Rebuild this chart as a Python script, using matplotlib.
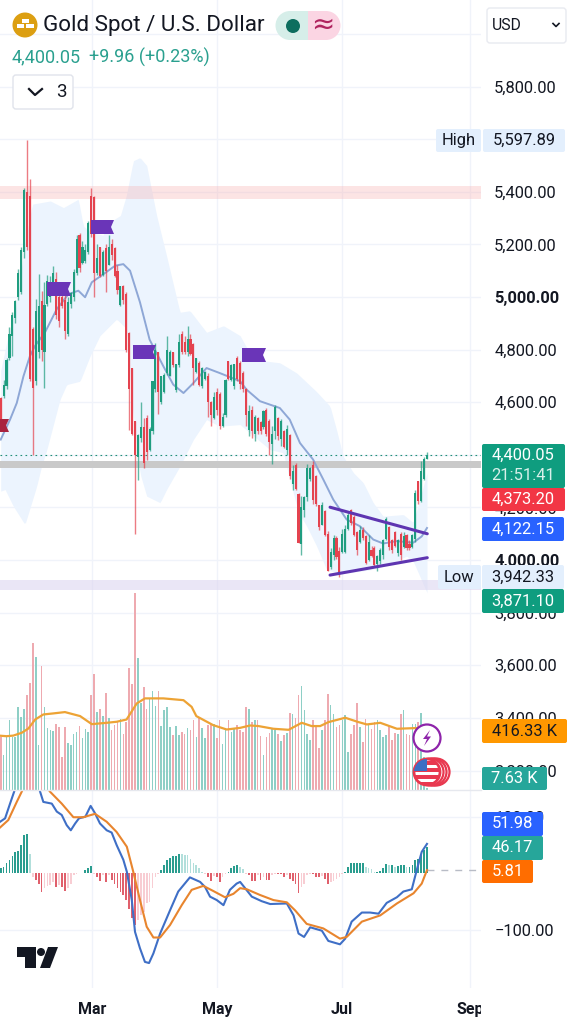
import matplotlib
matplotlib.use("Agg")
import matplotlib.pyplot as plt
import numpy as np
from matplotlib.patches import Circle, FancyBboxPatch, Polygon, Rectangle

plt.rcParams['font.family'] = ['Roboto', 'DejaVu Sans']

# daily candles
opens = [4616,4623,4660,4770,4850,4920,5000,5020,5170,5400,5385,4880,4680,4790,4985,4790,4975,5000,5020,5070,
         5000,5000,4990,4860,4975,5000,5090,5235,5130,5135,5170,5385,5380,5090,5190,5085,5185,5120,5200,5185,
         5100,4970,5040,5010,4865,4730,4530,4390,4465,4505,4540,4420,4490,4650,4790,4600,4640,4710,4700,4790,
         4645,4740,4860,4830,4790,4840,4820,4715,4750,4660,4690,4700,4600,4540,4640,4630,4510,4550,4755,4685,
         4660,4770,4750,4710,4650,4495,4570,4480,4540,4525,4505,4570,4530,4440,4490,4540,4460,4490,4420,4475,
         4290,4360,4250,4060,4190,4240,4310,4360,4320,4210,4135,4185,4100,3975,4020,4085,4035,4030,4030,4120,
         4190,4165,4105,4070,4115,4090,4000,4040,4045,3985,3995,4020,4080,4125,4075,4105,4025,4100,4050,4095,
         4060,4050,4080,4300,4225,4310,4385]
highs = [4620,4686,4770,4885,4942,4990,5106,5190,5416,5597,5448,4885,4992,5087,5021,5056,5085,5080,5119,5096,
         5030,5015,5010,5000,5020,5105,5235,5245,5213,5200,5290,5416,5385,5200,5190,5180,5200,5235,5220,5190,
         5120,5040,5045,5020,4868,4730,4530,4480,4600,4540,4550,4505,4680,4825,4790,4700,4710,4853,4800,4790,
         4745,4860,4872,4850,4891,4860,4825,4770,4755,4735,4720,4710,4605,4640,4655,4640,4560,4690,4755,4745,
         4745,4775,4755,4718,4655,4590,4585,4550,4545,4530,4570,4578,4535,4510,4590,4545,4535,4495,4515,4480,
         4360,4370,4255,4245,4245,4365,4355,4375,4325,4210,4220,4190,4110,4045,4095,4090,4050,4120,4135,4185,
         4195,4170,4110,4130,4125,4095,4095,4055,4055,4020,4045,4080,4165,4130,4080,4110,4080,4105,4105,4100,
         4075,4100,4265,4300,4375,4390,4410]
lows = [4500,4617,4650,4760,4775,4900,4990,5010,5150,5180,4680,4398,4667,4770,4756,4654,4967,4980,5011,4916,
        4885,4960,4840,4850,4960,4985,5085,5095,5125,5130,5165,5230,5000,5085,5075,5080,5020,5120,5140,5075,
        5010,4965,4975,4790,4495,4475,4098,4305,4450,4350,4380,4415,4480,4640,4555,4595,4635,4705,4700,4735,
        4640,4735,4785,4785,4775,4780,4665,4710,4660,4655,4685,4545,4510,4535,4550,4500,4505,4545,4685,4680,
        4650,4680,4650,4640,4510,4470,4465,4452,4480,4480,4500,4470,4400,4367,4460,4455,4435,4425,4400,4310,
        4265,4265,4065,4020,4165,4225,4300,4215,4205,4115,4135,4090,3960,3965,4000,4005,3935,4025,4025,4115,
        4135,4090,4020,4065,4075,3985,3995,4010,3975,3958,3985,4005,4075,4040,4025,4050,4015,4000,4045,4040,
        4040,4045,4070,4215,4220,4305,4385]
closes = [4534,4667,4762,4860,4930,4985,5090,5180,5405,5190,4690,4655,4945,4965,4800,4970,5060,5040,5090,4930,
          4910,4965,4870,4980,5015,5095,5220,5110,5190,5180,5280,5240,5090,5150,5080,5170,5100,5190,5160,5080,
          5025,5040,4990,4800,4650,4480,4400,4475,4505,4370,4410,4500,4680,4800,4640,4700,4705,4800,4790,4740,
          4745,4830,4790,4790,4840,4785,4730,4770,4665,4730,4715,4600,4550,4620,4570,4510,4545,4685,4690,4740,
          4745,4690,4670,4650,4550,4565,4490,4545,4490,4490,4565,4480,4450,4480,4580,4470,4530,4430,4500,4320,
          4340,4270,4065,4200,4240,4350,4350,4230,4215,4125,4210,4095,3960,4030,4085,4010,3950,4100,4120,4170,
          4140,4095,4040,4115,4085,3990,4070,4015,3980,4015,4040,4075,4155,4050,4040,4055,4075,4020,4090,4045,
          4045,4095,4255,4225,4340,4385,4400]

# volume in thousands
volumes = [354,235,354,470,354,350,555,488,544,638,712,985,891,298,829,551,410,399,394,443,
           421,220,417,314,298,370,383,426,343,405,388,634,773,522,544,493,650,482,399,432,
           461,473,376,455,818,706,1317,885,578,690,540,612,661,562,663,428,533,551,417,365,
           426,365,383,376,410,403,470,354,477,414,343,432,443,443,349,466,305,410,466,388,
           410,432,397,386,553,542,453,464,464,357,230,352,379,408,397,375,326,363,379,515,
           508,482,638,696,531,375,335,464,430,281,401,464,642,569,508,419,430,464,502,252,
           375,430,580,419,319,475,441,408,453,464,401,352,368,430,335,379,375,508,531,370,
           363,441,441,453,513,218,7.63]

# macd histogram, one value per bar
hist = [9,11,18,24,31,37,39,50,68,69,34,-6,-11,-18,-32,-25,-22,-21,-16,-24,
        -21,-24,-31,-26,-19,-3,-1,0.5,1.5,6,9,13,-1,-7,-13,-3,-15,-3,-12,-18,
        -26,-32,-38,-47,-62,-79,-91,-82,-73,-68,-53,-50,-26,-7,-1,6,15,24,28,31,
        31,35,34,33,32,26,18,15,9,3,-1,-7,-14,-5,-7,-16,-7,-1,3,9,
        13,15,12,8,-1,-3,-13,-13,-3,-11,-7,-11,-11,-3,-1,-1,-1,-6,-2,-9,
        -13,-19,-35,-24,-18,-3,-1,-1,-6,-7,-5,-9,-18,-16,-13,-9,-7,-1,3,12,
        19,19,19,19,19,11,9,7,3,3,4,9,16,15,15,12,13,15,15,11,
        11,15,24,26,35,41,46]

# bollinger ribbon and its basis, sampled at the bends
upper_x = [0,2.5,5,8.3,10.8,17,21.5,26.6,28.3,31,35,37.4,41,43,45.4,47.7,50,53.4,56.8,61.4,64.8,70.5,76.3,82,
           86.5,95.6,101.4,108.2,112.8,115,117.3,120.8,124.2,127.6,131,137.9,141.3,146]
upper_y = [4720,4850,4950,5200,5353,5365,5340,5372,5270,5245,5235,5285,5310,5385,5518,5530,5500,5310,5157,4942,4948,4866,4891,4853,
           4762,4750,4711,4640,4585,4496,4395,4332,4294,4218,4167,4173,4142,4331]
lower_x = [0,1.5,4.3,8.3,12.3,14,15.8,20.3,22.6,27.2,30.6,34,39.7,43.2,44.9,47.7,50,54.6,56.8,61.4,66,70.5,75,82,
           85.4,92.2,96.8,99,102,104.8,108.2,111.6,115,119.6,127.6,133.3,139,141.3,146]
lower_y = [4262,4268,4205,4135,4280,4357,4420,4610,4667,4680,4775,4853,4916,4878,4600,4330,4243,4218,4268,4357,4458,4534,4509,4515,
           4483,4420,4408,4306,4180,4129,4053,3964,3952,3952,3965,3985,4015,3995,3876]
basis_x = [0,3.2,5.5,7.8,10,11.8,15.2,19.2,23.2,26.6,28.9,31.2,35.2,39.2,42,44.3,47.7,51,55.7,59.1,62.6,66,70.5,75,82,
           84.2,88.8,95.6,99,102.5,107,110.5,113.9,118.5,123,127.6,131,135.6,141.3,144.2,146]
basis_y = [4458,4534,4597,4699,4775,4815,4866,4954,5011,5024,4999,5056,5087,5119,5125,5100,4980,4838,4737,4667,4635,4673,4730,4711,4680,
           4648,4604,4578,4534,4445,4382,4306,4230,4154,4129,4078,4063,4072,4066,4090,4122]

vol_ma_x = [0,2,4.3,7.2,9.5,11.8,14.6,18,22,27.2,31.2,34,36.3,39.7,43.1,46.6,49.4,55.7,62.6,65.4,67,72.8,77.4,82,
            85.4,88.3,93.4,98.6,103.1,106.5,109.4,112.3,118,122.5,125.4,130,135.7,141.4,146]
vol_ma_y = [361,358,362,381,410,470,504,511,520,493,439,444,448,455,470,578,612,612,600,555,493,432,403,414,
            430,426,408,401,448,426,426,453,482,453,437,448,408,412,416]

macd_x = [-0.2,1.5,3.2,4.6,7,10,13.5,14.6,17.5,19.2,20.9,22.6,24,25.5,26.8,29,30.8,32.3,34,36.3,38,39.7,42,43.2,44.9,46,47.7,49.4,50.8,52.3,54.6,58,60.8,64.8,68.3,70,71.7,74,76.3,78.5,80.8,82,
          83.7,86,89.4,92.3,98,100.3,102,103.9,106,110,112.2,116.2,118,120.2,123.7,126.5,129.4,132.2,135.7,137.9,140.8,142.5,144.2,146]
macd_y = [91,97,123,144,185,200,144,126,123,109,103,85,76,88,97,100,119,106,88,76,72,50,24,3,-47,-103,-132,-156,-158,-141,-106,-65,-32,-7,-15,-24,-41,-47,-56,-29,-18,-15,
          -26,-41,-49,-54,-53,-74,-106,-112,-95,-101,-119,-125,-115,-85,-69,-69,-71,-52,-42,-32,-28,6,38,52]
signal_x = [-0.2,2.6,5.5,7.2,10,13,16.9,20.9,24.9,28.3,32.3,36.3,39.7,43.2,45.4,47.7,50,52.3,54.6,58,62,65.4,69.4,72.8,76.8,79.7,82,
            84.3,88.8,93.4,98,100.8,104.8,110.5,116.2,118.5,123.7,130,135.7,141.4,144.2,146]
signal_y = [81,94,126,144,175,170,144,123,99,99,105,91,73,47,3,-47,-94,-113,-113,-91,-56,-29,-22,-31,-42,-36,-26,
            -28,-38,-47,-51,-65,-89,-97,-115,-112,-85,-74,-53,-35,-18,5.81]

# two trend lines drawn on the chart
trend_x = [112.8,146.1]
trend_top = [4201,4100]
trend_bottom = [3943,4009]

price_ticks = [6000,5800,5600,5400,5200,5000,4800,4600,4400,4200,4000,3800,3600,3400,3200]
hidden_ticks = [6000,5600,4400]  # sit fully behind the badges
macd_ticks = [100,-100]
month_ticks = [31.27,74.07,116.9,160.7]
month_labels = ['Mar','May','Jul','Sep']

GREEN = '#1f9d80'
RED = '#e4434f'
GRID = '#f0f3fa'

W, H = 573, 1024
fig = plt.figure(figsize=(W/100, H/100), dpi=100, facecolor='white')


def pane(top, bottom, z):
    a = fig.add_axes([0, 1-bottom/H, 481/W, (bottom-top)/H], zorder=z)
    a.set_xlim(-0.24, 164.5)
    for s in a.spines.values():
        s.set_visible(False)
    a.patch.set_alpha(0)
    a.set_xticks(month_ticks)
    a.tick_params(length=0)
    a.set_xticklabels([])
    a.grid(True, color=GRID, lw=1)
    a.set_axisbelow(True)
    return a


ax = pane(0, 790, 1)
vol = pane(590, 789.5, 2)
vol.grid(False)
vol.set_yticks([])
vol.set_xticks([])
ax2 = pane(790, 988, 1)

x = np.arange(len(closes))
o, h, l, c = [np.array(v, dtype=float) for v in (opens, highs, lows, closes)]
up = c >= o
colors = [GREEN if u else RED for u in up]

# price pane
ax.set_ylim(3126, 6129)
ax.yaxis.tick_right()
ax.set_yticks(price_ticks)
ax.set_yticklabels(['' if p in hidden_ticks else f'{p:,.2f}' for p in price_ticks], fontsize=11.9, color='#131722')
ax.tick_params(axis='y', pad=9.5)
for lab, p in zip(ax.get_yticklabels(), price_ticks):
    if p in (5000, 4000):
        lab.set_fontweight('bold')

lx = np.arange(0, 146.5, 0.5)
ax.fill_between(lx, np.interp(lx, lower_x, lower_y), np.interp(lx, upper_x, upper_y),
                color='#ecf4fe', lw=0, zorder=1)
ax.axhspan(5372, 5423, color='#f7a8a8', alpha=0.3, lw=0, zorder=1.5)
ax.axhspan(3886, 3924, color='#ddd6f0', alpha=0.6, lw=0, zorder=1.5)
ax.axhspan(4350, 4376, color='#c9c9c9', lw=0, zorder=1.5)
ax.plot(basis_x, basis_y, color='#8ea7d6', lw=1.4, zorder=2)
ax.axhline(closes[-1], color='#1f8f78', lw=0.8, ls=(0, (1.5, 3)), zorder=2)

ax.vlines(x, l, h, colors=colors, lw=1.0, alpha=0.7, zorder=3)
ax.bar(x, np.maximum(np.abs(c-o), 3), bottom=np.minimum(o, c), width=0.72, color=colors, lw=0, zorder=3)

ax.plot(trend_x, trend_top, color='#5e35b1', lw=2.2, solid_capstyle='round', zorder=4)
ax.plot(trend_x, trend_bottom, color='#5e35b1', lw=2.2, solid_capstyle='round', zorder=4)

# volume pane
vol.set_ylim(0, 1340)
vol.bar(x, volumes, width=0.55, color=['#8ecfc6' if u else '#eeaab0' for u in up], lw=0, zorder=1)
vol.plot(vol_ma_x, vol_ma_y, color='#eda335', lw=1.6, zorder=2)

# macd pane
ax2.set_ylim(-202, 147)
ax2.yaxis.tick_right()
ax2.set_yticks(macd_ticks)
ax2.set_yticklabels(['100.00', '\u2212100.00'], fontsize=11.9, color='#131722')
ax2.tick_params(axis='y', pad=9.5)
ax2.tick_params(axis='x', pad=10, labelsize=11.5)
ax2.set_xticklabels(month_labels, fontweight='bold', color='#131722', fontsize=11.5)

hist_colors = []
for i, v in enumerate(hist):
    grow = i == 0 or abs(v) >= abs(hist[i-1])
    if v >= 0:
        hist_colors.append('#2a9d8f' if grow else '#b2dfdb')
    else:
        hist_colors.append('#e0606c' if grow else '#f8cdd3')
ax2.bar(x, hist, width=0.6, color=hist_colors, lw=0, zorder=2)
ax2.plot(macd_x, macd_y, color='#3f6fc6', lw=1.5, zorder=3)
ax2.plot(signal_x, signal_y, color='#e8852e', lw=1.5, zorder=3)
ax2.plot([146, 164.5], [5.81, 5.81], color='#b8bcc6', lw=1, ls=(0, (5, 5)), zorder=2)

# interface drawn over the panes, in pixels
ui = fig.add_axes([0, 0, 1, 1], zorder=10)
ui.set_xlim(0, W)
ui.set_ylim(H, 0)
ui.axis('off')
ui.patch.set_alpha(0)


def box(x0, y0, x1, y1, color, edge='none', rad=2):
    ui.add_patch(FancyBboxPatch((x0+rad, y0+rad), x1-x0-2*rad, y1-y0-2*rad,
                                boxstyle=f'round,pad={rad},rounding_size={rad}',
                                fc=color, ec=edge, lw=1))


def badge(x0, y0, x1, y1, color, label, tc='white', cx=None):
    box(x0, y0, x1, y1, color)
    ui.text((x0+x1)/2 if cx is None else cx, (y0+y1)/2, label, color=tc, fontsize=11.9, ha='center', va='center')


def flag(x0, y0, x1, y1, color):
    ym = (y0+y1)/2
    ui.add_patch(Polygon([(x0, y0), (x1, y0), (x1-3, ym), (x1, y1), (x0, y1)], fc=color, ec='none'))


ui.add_patch(Rectangle((481, 994), 92, 30, fc='white', ec='none'))
ui.plot([0, 481], [790, 790], color='#e6e8ee', lw=1)

flag(47, 282, 71, 296, '#6a35b8')
flag(91, 220, 114, 234, '#6a35b8')
flag(133, 345, 156, 359, '#6a35b8')
flag(242, 348, 266, 362, '#6a35b8')
ui.add_patch(Polygon([(0, 419), (9, 419), (6, 425.5), (9, 432), (0, 432)], fc='#a9233f', ec='none'))

# header
ui.add_patch(Circle((25, 25), 12.5, fc='#dc9f12', ec='none'))
ui.add_patch(Rectangle((21.5, 18.5), 7, 4, fc='white', ec='none'))
ui.add_patch(Rectangle((16.5, 24), 7.5, 4, fc='white', ec='none'))
ui.add_patch(Rectangle((26, 24), 7.5, 4, fc='white', ec='none'))
ui.text(43, 25, 'Gold Spot / U.S. Dollar', fontsize=16.1, color='#131722', va='center', ha='left')
ui.add_patch(Rectangle((290, 11), 18, 29, fc='#d6eee9', ec='none'))
ui.add_patch(Circle((290, 25.5), 14.5, fc='#d6eee9', ec='none'))
ui.add_patch(Rectangle((308, 11), 18, 29, fc='#fbd5e3', ec='none'))
ui.add_patch(Circle((326, 25.5), 14.5, fc='#fbd5e3', ec='none'))
ui.add_patch(Circle((293, 26), 7, fc='#0d6e5f', ec='none'))
ui.text(323, 25, '\u2248', fontsize=20, color='#b0245f', ha='center', va='center', family=['DejaVu Sans'])
ui.text(12, 57, '4,400.05', fontsize=13, color='#2aa08f', va='center', ha='left')
ui.text(89, 57, '+9.96 (+0.23%)', fontsize=13, color='#2aa08f', va='center', ha='left')
box(13, 75, 73, 109, 'white', edge='#e0e3eb', rad=3)
ui.plot([29, 35, 42], [89, 95, 89], color='#131722', lw=1.6)
ui.text(61, 92, '3', fontsize=13.5, color='#131722', ha='center', va='center')
box(487, 8, 566, 43, 'white', edge='#e8eaf0', rad=3)
ui.text(492, 25, 'USD', fontsize=11.3, color='#131722', va='center', ha='left')
ui.plot([553, 556, 559], [23.5, 26.5, 23.5], color='#131722', lw=1.2)

# price scale badges
box(436, 129, 481, 152, '#e3effd')
ui.text(458.5, 140.5, 'High', fontsize=11.9, color='#131722', ha='center', va='center')
badge(483, 129, 565, 152, '#e3effd', '5,597.89', tc='#131722')
box(482, 444, 565, 488, '#0f9d7f')
ui.text(523, 455, '4,400.05', fontsize=11.9, color='white', ha='center', va='center')
ui.text(523, 475, '21:51:41', fontsize=11.9, color='#d8f0ea', ha='center', va='center')
badge(482, 488, 565, 511, '#f23645', '4,373.20')
badge(482, 517, 564, 541, '#2962ff', '4,122.15')
box(438, 565, 481, 589, '#e3effd')
ui.text(459, 577, 'Low', fontsize=11.9, color='#131722', ha='center', va='center')
badge(482, 565, 564, 589, '#e3effd', '3,942.33', tc='#131722')
badge(482, 589, 564, 613, '#0f9d7f', '3,871.10')
badge(482, 719, 567, 743, '#ff9800', '416.33 K', tc='#131722')
badge(482, 767, 547, 790, '#26a69a', '7.63 K')
badge(482, 812, 543, 836, '#2962ff', '51.98')
badge(482, 836, 543, 860, '#26a69a', '46.17')
badge(482, 860, 533, 883, '#ff6d00', '5.81')

# event icons
ui.add_patch(Circle((427, 738), 13.5, fc='white', ec='#8e24aa', lw=1.6))
ui.add_patch(Polygon([(430, 730), (423, 739), (427, 739), (424, 746), (431, 736.5), (427, 736.5)], fc='#8e24aa', ec='none'))
for dx in (9, 6, 3):
    ui.add_patch(Circle((427+dx, 772), 13.5, fc='white', ec='#e8384f', lw=1.6))
disc = Circle((427, 772), 13, fc='white', ec='#e8384f', lw=2)
ui.add_patch(disc)
for sy, sh in ((761, 4), (768, 4), (775, 4), (782, 3)):
    st = Rectangle((414, sy), 26, sh, fc='#e8384f', ec='none')
    ui.add_patch(st)
    st.set_clip_path(disc)
ca = Rectangle((414, 759), 13, 12, fc='#3c6fc4', ec='none')
ui.add_patch(ca)
ca.set_clip_path(disc)

# tradingview mark
ui.add_patch(Polygon([(17, 947), (36, 947), (36, 968), (25, 968), (25, 957), (17, 957)], fc='#131722', ec='none'))
ui.add_patch(Circle((41, 952), 4, fc='#131722', ec='none'))
ui.add_patch(Polygon([(48, 947), (58, 947), (50, 968), (40, 968)], fc='#131722', ec='none'))

fig.savefig('out.png', dpi=100)
